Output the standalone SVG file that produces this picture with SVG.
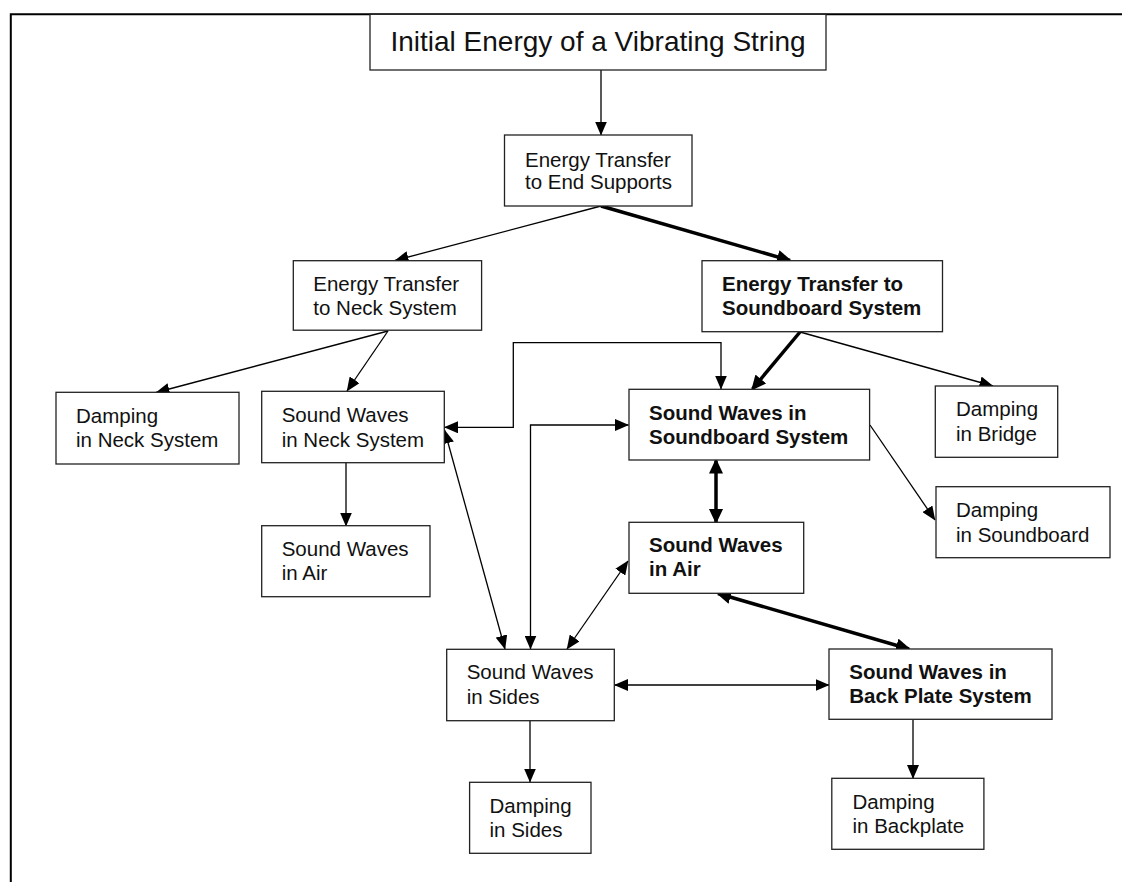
<svg xmlns="http://www.w3.org/2000/svg" width="1122" height="882" viewBox="0 0 1122 882">
<style>
.box{fill:#fff;stroke:#222;stroke-width:1.3}
.t{font-family:"Liberation Sans",Arial,sans-serif;font-size:20.5px;fill:#111}
.ttl{font-size:28px}
.b{font-weight:bold}
.c{fill:none;stroke:#000;stroke-width:1.3}
.k{fill:none;stroke:#000;stroke-width:3.5}
.a{marker-end:url(#ah)}
.bi{marker-start:url(#ah);marker-end:url(#ah)}
.ka{marker-end:url(#ahk)}
.kbi{marker-start:url(#ahk);marker-end:url(#ahk)}
</style>
<defs>
<marker id="ah" viewBox="0 0 14 12" markerWidth="14" markerHeight="12" refX="13.5" refY="6" orient="auto-start-reverse" markerUnits="userSpaceOnUse"><path d="M0,0 L14,6 L0,12 z" fill="#000"/></marker>
<marker id="ahk" viewBox="0 0 15 14" markerWidth="15" markerHeight="14" refX="13" refY="7" orient="auto-start-reverse" markerUnits="userSpaceOnUse"><path d="M0,0 L15,7 L0,14 z" fill="#000"/></marker>
</defs>
<rect width="1122" height="882" fill="#fff"/>
<g id="frame"><path d="M10.8,882 L10.8,14.3 L1122,14.3" fill="none" stroke="#000" stroke-width="2"/></g>
<g id="connectors">
<path class="c a" d="M601,70 L601,135"/>
<path class="c a" d="M601,206 L395,260.5"/>
<path class="k ka" d="M601,206 L790,260.5"/>
<path class="c a" d="M388,331 L156,392.5"/>
<path class="c a" d="M388,331 L347,391"/>
<path class="k ka" d="M800,332 L752.5,389"/>
<path class="c a" d="M800,332 L993,386"/>
<path class="c a" d="M346,463 L346,526"/>
<path class="c bi" d="M444.5,427.3 L513.3,427.3 L513.3,342.7 L721,342.7 L721,389"/>
<path class="c bi" d="M530.5,649 L530.5,425 L628.5,425"/>
<path class="c bi" d="M444.5,430 L505,649"/>
<path class="c bi" d="M567,649 L628,561"/>
<path class="k kbi" d="M716,460.5 L716,522"/>
<path class="k kbi" d="M718,593.5 L909,649"/>
<path class="c bi" d="M614.5,685 L829,685"/>
<path class="c a" d="M870,425 L935,520"/>
<path class="c a" d="M530,721 L530,782"/>
<path class="c a" d="M913,719.5 L913,778.5"/>
</g>
<g id="n-title"><rect class="box" x="370" y="14.3" width="456" height="55.7"/><text class="t ttl" x="598" y="51" text-anchor="middle">Initial Energy of a Vibrating String</text></g>
<g id="n-end"><rect class="box" x="504.5" y="135" width="187.5" height="71"/><text class="t" x="525" y="166.5">Energy Transfer</text><text class="t" x="525" y="189">to End Supports</text></g>
<g id="n-neck"><rect class="box" x="293.3" y="260.7" width="188.3" height="69.5"/><text class="t" x="313.3" y="291">Energy Transfer</text><text class="t" x="313.3" y="315">to Neck System</text></g>
<g id="n-sb"><rect class="box" x="702" y="260.7" width="240.5" height="71"/><text class="t b" x="722" y="291">Energy Transfer to</text><text class="t b" x="722" y="315">Soundboard System</text></g>
<g id="n-dneck"><rect class="box" x="56" y="392.3" width="183" height="71.7"/><text class="t" x="76" y="422.5">Damping</text><text class="t" x="76" y="447">in Neck System</text></g>
<g id="n-swneck"><rect class="box" x="261.7" y="391.3" width="182.6" height="71.4"/><text class="t" x="281.7" y="421.7">Sound Waves</text><text class="t" x="281.7" y="446.5">in Neck System</text></g>
<g id="n-swsb"><rect class="box" x="629" y="389.3" width="240.6" height="70.7"/><text class="t b" x="649" y="419.5">Sound Waves in</text><text class="t b" x="649" y="444">Soundboard System</text></g>
<g id="n-dbridge"><rect class="box" x="935.3" y="386" width="122.4" height="71.3"/><text class="t" x="956" y="416">Damping</text><text class="t" x="956" y="440.5">in Bridge</text></g>
<g id="n-dsb"><rect class="box" x="936" y="486.7" width="174" height="71"/><text class="t" x="956" y="517">Damping</text><text class="t" x="956" y="541.5">in Soundboard</text></g>
<g id="n-swair1"><rect class="box" x="261.7" y="525.7" width="168.3" height="71"/><text class="t" x="281.7" y="555.5">Sound Waves</text><text class="t" x="281.7" y="580">in Air</text></g>
<g id="n-swair2"><rect class="box" x="629" y="522.3" width="174.7" height="71"/><text class="t b" x="649" y="551.5">Sound Waves</text><text class="t b" x="649" y="576">in Air</text></g>
<g id="n-sides"><rect class="box" x="446.7" y="649.3" width="167.6" height="71.4"/><text class="t" x="466.7" y="679.3">Sound Waves</text><text class="t" x="466.7" y="704">in Sides</text></g>
<g id="n-back"><rect class="box" x="829" y="649" width="223" height="70.3"/><text class="t b" x="849.3" y="679">Sound Waves in</text><text class="t b" x="849.3" y="703">Back Plate System</text></g>
<g id="n-dsides"><rect class="box" x="469.6" y="782.3" width="121.4" height="71"/><text class="t" x="489.5" y="812.5">Damping</text><text class="t" x="489.5" y="837">in Sides</text></g>
<g id="n-dback"><rect class="box" x="831.8" y="778.3" width="152.1" height="71"/><text class="t" x="852.5" y="808.5">Damping</text><text class="t" x="852.5" y="833">in Backplate</text></g>
</svg>
